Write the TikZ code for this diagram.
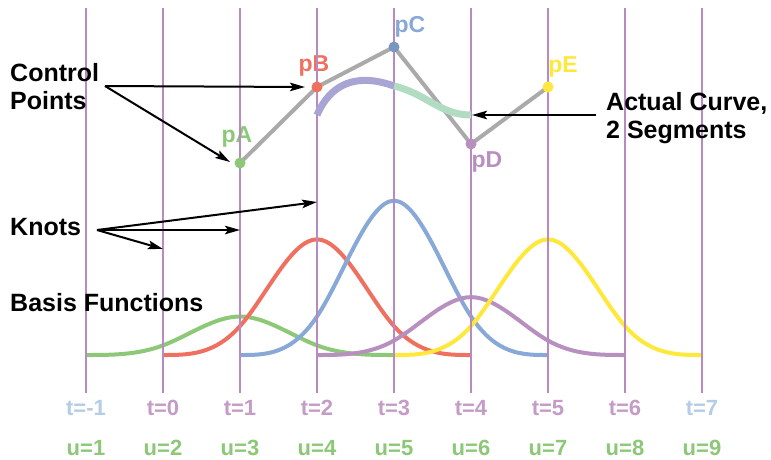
\documentclass[tikz,border=0pt]{standalone}
\usepackage{fontspec}
\setmainfont{Liberation Sans}
\usetikzlibrary{arrows.meta}
\definecolor{knotc}{HTML}{B98AC2}
\definecolor{cgreen}{HTML}{8CC878}
\definecolor{cred}{HTML}{F07060}
\definecolor{cblue}{HTML}{88A8D8}
\definecolor{cpurple}{HTML}{B890C0}
\definecolor{cyellow}{HTML}{FFE83C}
\definecolor{cgrey}{HTML}{AAAAAA}
\definecolor{tblue}{HTML}{B4CCE6}
\definecolor{tpurple}{HTML}{C49CC6}
\definecolor{crvA}{HTML}{A8A4D4}
\definecolor{crvB}{HTML}{B2DCC2}
\newcommand\bsplinecurve[3]{%
  \draw[basis,#1] (#2,355)
   .. controls ({#2+77/3},355) and ({#2+2*77/3},355) .. ({#2+77},{355-#3/6})
   .. controls ({#2+4*77/3},{355-#3/3}) and ({#2+5*77/3},{355-2*#3/3}) .. ({#2+2*77},{355-2*#3/3})
   .. controls ({#2+7*77/3},{355-2*#3/3}) and ({#2+8*77/3},{355-#3/3}) .. ({#2+3*77},{355-#3/6})
   .. controls ({#2+10*77/3},355) and ({#2+11*77/3},355) .. ({#2+4*77},355);}
\begin{document}
\begin{tikzpicture}[x=1pt,y=-1pt,
  knotline/.style={knotc,line width=1.5pt},
  basis/.style={line width=4pt},
  poly/.style={cgrey,line width=4pt},
  dot/.style={circle,inner sep=0pt,minimum size=11pt},
  ptlabel/.style={font=\bfseries\fontsize{23}{25}\selectfont,inner sep=0pt,anchor=base},
  biglabel/.style={font=\bfseries\fontsize{25}{28}\selectfont,inner sep=0pt,align=left},
  tlabel/.style={font=\bfseries\fontsize{22}{24}\selectfont,inner sep=0pt,anchor=base},
  arr/.style={black,line width=2pt,-{Stealth[length=15pt,width=8.5pt,inset=3pt]}}]
\useasboundingbox[fill=white] (0,0) rectangle (771,459);
% basis functions
\bsplinecurve{cgreen}{86}{57.75}
\bsplinecurve{cred}{163}{173.5}
\bsplinecurve{cblue}{240}{231.5}
\bsplinecurve{cpurple}{317}{86.8}
\bsplinecurve{cyellow}{394}{173.5}
% point labels
\node[ptlabel,text=cgreen] (lA) at (237,142) {pA};
\node[ptlabel,text=cred] (lB) at (314,71) {pB};
\node[ptlabel,text=cblue] (lC) at (410,32) {pC};
\node[ptlabel,text=cpurple] (lD) at (487,167) {pD};
\node[ptlabel,text=cyellow] (lE) at (563,72) {pE};
% knot lines
\foreach \i/\x in {0/86,1/163,2/240,3/317,4/394,5/471,6/548,7/625,8/702}{
  \coordinate (kt\i) at (\x,8);
  \coordinate (kb\i) at (\x,393);
  \draw[knotline] (kt\i) -- (kb\i);
}
% control polygon
\coordinate (cA) at (240,163);
\coordinate (cB) at (317,87);
\coordinate (cC) at (394,47);
\coordinate (cD) at (471,144);
\coordinate (cE) at (548,87);
\draw[poly,line join=round] (cA) -- (cB) -- (cC) -- (cD) -- (cE);
% actual curve
\coordinate (cs) at (317,115);
\coordinate (cm) at (394,86);
\coordinate (ce) at (471,115);
\draw[crvA,line width=7pt] (cs) .. controls (330,85) and (355,72) .. (cm);
\draw[crvB,line width=7pt] (cm) .. controls (425,93) and (440,115) .. (ce);
% dots
\node[dot,fill=cgreen] (dA) at (cA) {};
\node[dot,fill=cred] (dB) at (cB) {};
\node[dot,fill=cblue!90!black] (dC) at (cC) {};
\node[dot,fill=cpurple] (dD) at (cD) {};
\node[dot,fill=cyellow] (dE) at (cE) {};
% big labels
\node[biglabel,anchor=north west] (ctl) at (10,63) {Control\\Points};
\node[biglabel,anchor=north west] (act) at (606,92) {Actual Curve,\\2 Segments};
\node[biglabel,anchor=base west] (knots) at (10,235) {Knots};
\node[biglabel,anchor=base west] (basisl) at (10,311) {Basis Functions};
% arrows
\coordinate (ctlS) at (105,86);
\coordinate (tipB) at (305,87);
\coordinate (tipA) at (230,162);
\draw[arr] (ctlS) -- (tipB);
\draw[arr] (ctlS) -- (tipA);
\coordinate (knS) at (97,230);
\coordinate (tk3) at (317,202);
\coordinate (tk2) at (240,230);
\coordinate (tk1) at (163,249);
\draw[arr] (knS) -- (tk3);
\draw[arr] (knS) -- (tk2);
\draw[arr] (knS) -- (tk1);
\coordinate (acS) at (596,115);
\coordinate (acT) at (472,115);
\draw[arr] (acS) -- (acT);
% t and u labels
\foreach \i/\x/\t/\c in {0/86/-1/tblue,1/163/0/tpurple,2/240/1/tpurple,3/317/2/tpurple,4/394/3/tpurple,5/471/4/tpurple,6/548/5/tpurple,7/625/6/tpurple,8/702/7/tblue}{
  \node[tlabel,text=\c] (t\i) at (\x,415) {t=\t};
}
\foreach \i/\x in {1/86,2/163,3/240,4/317,5/394,6/471,7/548,8/625,9/702}{
  \node[tlabel,text=cgreen] (u\i) at (\x,455) {u=\i};
}
\end{tikzpicture}
\end{document}
